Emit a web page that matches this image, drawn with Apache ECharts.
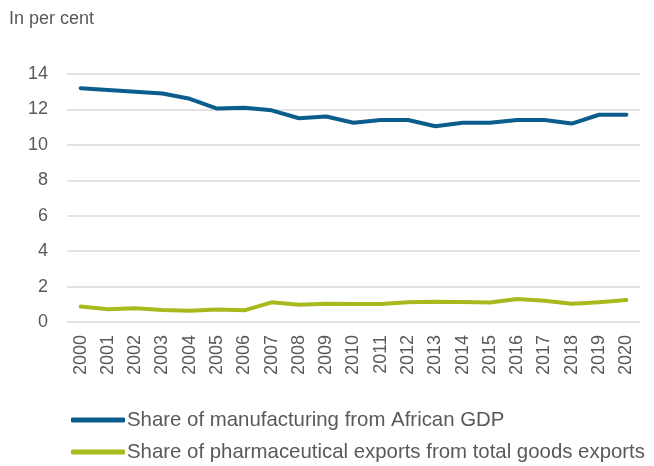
<!DOCTYPE html>
<html>
<head>
<meta charset="utf-8">
<script src="https://cdn.jsdelivr.net/npm/echarts@6/dist/echarts.min.js"></script>
<style>
  html, body { margin: 0; padding: 0; background: #fff; }
  #chart { width: 654px; height: 466px; }
</style>
</head>
<body>
<div id="chart"></div>
<script>
const years = ["2000", "2001", "2002", "2003", "2004", "2005", "2006", "2007", "2008", "2009", "2010",
  "2011", "2012", "2013", "2014", "2015", "2016", "2017", "2018", "2019", "2020"];
const manufacturing = [13.2, 13.1, 13.0, 12.9, 12.6, 12.05, 12.1, 11.95, 11.5, 11.6, 11.25,
  11.4, 11.4, 11.05, 11.25, 11.25, 11.4, 11.4, 11.2, 11.7, 11.7];
const pharma = [0.87, 0.72, 0.77, 0.68, 0.64, 0.7, 0.66, 1.11, 0.98, 1.03, 1.02,
  1.02, 1.11, 1.15, 1.13, 1.1, 1.3, 1.2, 1.03, 1.12, 1.24];
const yTicks = [0, 2, 4, 6, 8, 10, 12, 14];
const seriesNames = ["Share of manufacturing from African GDP",
  "Share of pharmaceutical exports from total goods exports"];

const font = "Liberation Sans, Arial, sans-serif";
const textColor = "#595959";
const blue = "#0B5D8D";
const green = "#A8B91D";

// one legend per row, the reference stacks them on the left
function legendRow(name, top) {
  return {
    left: 66,
    top: top,
    itemWidth: 54,
    itemHeight: 5,
    itemGap: 0,
    icon: "roundRect",
    textStyle: { fontFamily: font, fontSize: 20.4, color: textColor, padding: [0, 0, 0, -3] },
    data: [name]
  };
}

const chart = echarts.init(document.getElementById("chart"));
chart.setOption({
  animation: false,
  title: {
    text: "In per cent",
    left: 4,
    top: 5,
    textStyle: { fontFamily: font, fontSize: 18, fontWeight: "normal", color: textColor }
  },
  grid: { left: 67, right: 14, top: 74, bottom: 144 },
  legend: [legendRow(seriesNames[0], 405), legendRow(seriesNames[1], 437)],
  xAxis: {
    type: "category",
    data: years,
    boundaryGap: true,
    axisLine: { show: false },
    axisTick: { show: false },
    axisLabel: { rotate: 90, fontFamily: font, fontSize: 18, color: textColor, margin: 13, interval: 0 }
  },
  yAxis: {
    type: "value",
    min: yTicks[0],
    max: yTicks[yTicks.length - 1],
    interval: 2,
    axisLine: { show: false },
    axisTick: { show: false },
    axisLabel: { fontFamily: font, fontSize: 18, color: textColor, margin: 19 },
    splitLine: { lineStyle: { color: "#d9d9d9", width: 1.5 } }
  },
  series: [
    {
      name: seriesNames[0],
      type: "line",
      data: manufacturing,
      showSymbol: false,
      symbol: "none",
      itemStyle: { color: blue },
      lineStyle: { color: blue, width: 4, cap: "round", join: "round" }
    },
    {
      name: seriesNames[1],
      type: "line",
      data: pharma,
      showSymbol: false,
      symbol: "none",
      itemStyle: { color: green },
      lineStyle: { color: green, width: 4, cap: "round", join: "round" }
    }
  ]
});
</script>
</body>
</html>
